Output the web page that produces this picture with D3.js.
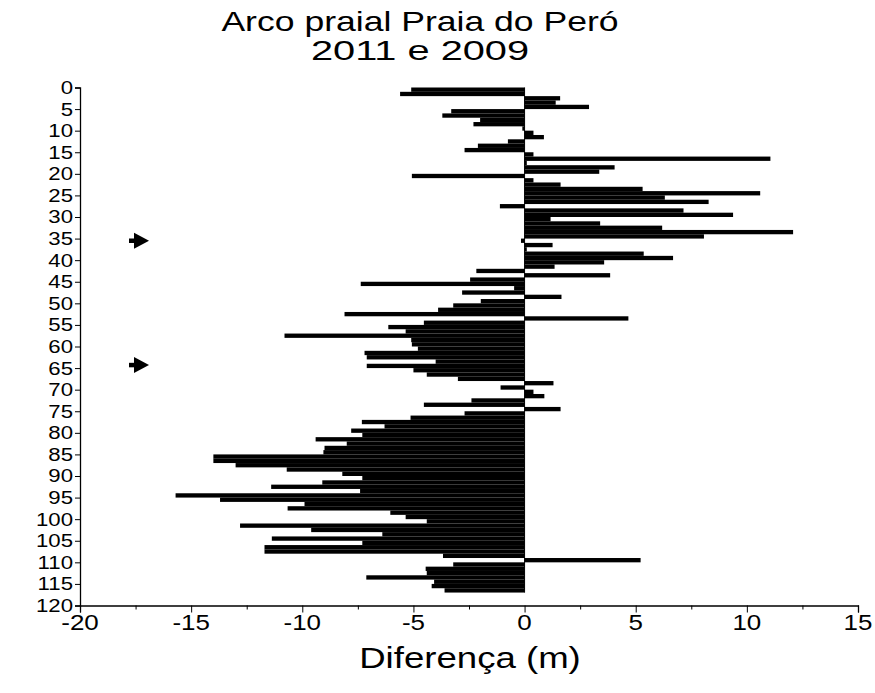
<!DOCTYPE html>
<html>
<head>
<meta charset="utf-8">
<script src="https://cdn.jsdelivr.net/npm/d3@7/dist/d3.min.js"></script>
<style>
  html, body { margin: 0; padding: 0; background: #fff; }
  svg { display: block; font-family: "Liberation Sans", Arial, sans-serif; }
</style>
</head>
<body>
<svg id="chart" width="875" height="693"></svg>
<script>
// Profile positions along the beach arc (one bar per profile)
const profiles = d3.range(0, 117);

// Elevation difference 2011 - 2009 (m) per profile
const diferenca = [
  -5.1, -5.6, 1.6, 1.4, 2.9, -3.3, -3.7, -2.0, -2.3, -0.1,
  0.4, 0.87, -0.75, -2.1, -2.7, 0.4, 11.06, 0.1, 4.05, 3.36,
  -5.07, 0.4, 1.62, 5.31, 10.6, 6.31, 8.28, -1.11, 7.15, 9.38,
  1.17, 3.4, 6.19, 12.08, 8.07, -0.16, 1.26, 0.1, 5.36, 6.68,
  3.58, 1.35, -2.17, 3.85, -2.45, -7.37, -0.47, -2.81, 1.66, -1.97,
  -3.21, -3.89, -8.1, 4.67, -4.53, -6.13, -5.35, -10.8, -5.1, -5.07,
  -4.8, -7.2, -7.1, -4.0, -7.1, -5.0, -4.4, -3.0, 1.3, -1.08,
  0.4, 0.89, -2.39, -4.53, 1.62, -2.7, -5.13, -7.32, -6.3, -7.8,
  -7.3, -9.4, -8.0, -9.0, -9.05, -14.0, -14.0, -13.0, -10.7, -8.2,
  -7.3, -9.1, -11.4, -7.4, -15.7, -13.7, -9.9, -10.66, -6.04, -5.35,
  -4.4, -12.8, -9.6, -6.4, -11.37, -7.3, -11.7, -11.7, -3.67, 5.22,
  -3.21, -4.45, -4.4, -7.12, -4.07, -4.18, -3.6
];

// Axis ticks
const xTicks = [-20, -15, -10, -5, 0, 5, 10, 15];
const xMinorTicks = [-17.5, -12.5, -7.5, -2.5, 2.5, 7.5, 12.5];
const yTicks = d3.range(0, 121, 5);

// Profiles marked with arrows
const arrowProfiles = [35.5, 64.3];

const titleLines = ["Arco praial Praia do Peró", "2011 e 2009"];
const titleStretch = [1.27, 1.42];
const xTitle = "Diferença (m)";

const svg = d3.select("#chart");

const x = d3.scaleLinear().domain([-20, 15]).range([80, 858]);
const y = d3.scaleLinear().domain([0, 120]).range([87.5, 605.5]);

// Plain hyphen for negative tick labels
const fmt = d => String(d);

// Bars
svg.append("g")
  .selectAll("rect")
  .data(profiles)
  .join("rect")
  .attr("x", i => x(Math.min(0, diferenca[i])))
  .attr("width", i => Math.abs(x(diferenca[i]) - x(0)))
  .attr("y", i => y(i))
  .attr("height", i => y(i + 1) - y(i))
  .attr("fill", "#000");

// Zero reference line
svg.append("line")
  .attr("x1", x(0)).attr("x2", x(0))
  .attr("y1", y(0)).attr("y2", y(profiles.length))
  .attr("stroke", "#000").attr("stroke-width", 1);

// X axis
const gx = svg.append("g").attr("transform", `translate(0,${y(120)})`);
gx.call(d3.axisBottom(x).tickValues(xTicks).tickSize(7).tickFormat(() => ""));
gx.append("g").call(d3.axisBottom(x).tickValues(xMinorTicks).tickSize(4).tickFormat(() => ""))
  .select(".domain").remove();
gx.selectAll(".domain").attr("stroke", "#000").attr("stroke-width", 1.3);
gx.selectAll(".tick line").attr("stroke", "#000");
gx.selectAll(".xlab")
  .data(xTicks)
  .join("text")
  .attr("class", "xlab")
  .attr("transform", d => `translate(${x(d)},${9}) scale(1.18,1)`)
  .attr("text-anchor", "middle")
  .attr("dy", "0.71em")
  .attr("font-size", 22)
  .attr("fill", "#000")
  .text(fmt);

// Y axis
const gy = svg.append("g").attr("transform", `translate(${x(-20)},0)`);
gy.call(d3.axisLeft(y).tickValues(yTicks).tickSize(5).tickFormat(() => ""));
gy.select(".domain").attr("stroke", "#000").attr("stroke-width", 1.3);
gy.selectAll(".tick line").attr("stroke", "#000");
gy.selectAll(".ylab")
  .data(yTicks)
  .join("text")
  .attr("class", "ylab")
  .attr("transform", d => `translate(-7,${y(d)}) scale(1.2,1)`)
  .attr("text-anchor", "end")
  .attr("dy", "0.35em")
  .attr("font-size", 18.5)
  .attr("fill", "#000")
  .text(fmt);

// Arrows
const arrows = svg.append("g");
arrowProfiles.forEach(p => {
  const cy = y(p);
  arrows.append("line")
    .attr("x1", 129).attr("x2", 138)
    .attr("y1", cy).attr("y2", cy)
    .attr("stroke", "#000").attr("stroke-width", 4.5);
  arrows.append("path")
    .attr("d", `M134,${cy - 8} L149,${cy} L134,${cy + 8} Z`)
    .attr("fill", "#000");
});

// Title
svg.append("g")
  .selectAll("text")
  .data(titleLines)
  .join("text")
  .attr("transform", (d, i) => `translate(420,${31 + i * 29}) scale(${titleStretch[i]},1)`)
  .attr("text-anchor", "middle")
  .attr("font-size", 28)
  .attr("fill", "#000")
  .text(d => d);

// X axis title
svg.append("text")
  .attr("transform", `translate(470,668) scale(1.22,1)`)
  .attr("text-anchor", "middle")
  .attr("font-size", 30)
  .attr("fill", "#000")
  .text(xTitle);
</script>
</body>
</html>
